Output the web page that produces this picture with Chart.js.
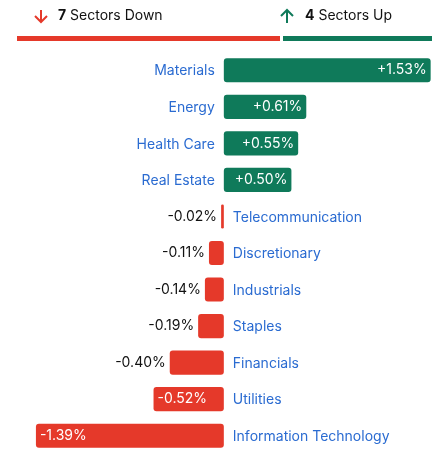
<!DOCTYPE html>
<html><head><meta charset="utf-8">
<script src="https://cdn.jsdelivr.net/npm/chart.js@4"></script>
<style>html,body{margin:0;padding:0;background:#fff}#w{position:relative;width:446px;height:462px}</style>
</head><body><div id="w"><canvas id="c"></canvas></div>
<script>
const categories=["Materials","Energy","Health Care","Real Estate","Telecommunication","Discretionary","Industrials","Staples","Financials","Utilities","Information Technology"];
const values=[1.53,0.61,0.55,0.50,-0.02,-0.11,-0.14,-0.19,-0.40,-0.52,-1.39];
const downCount=7, upCount=4;
const RED="#e5392a", GREEN="#0f7a5a", BLUE="#2a6bd1";
const FONT="Inter, 'Noto Sans', sans-serif";
const plug={id:'lbl',afterDatasetsDraw(ch){
  const ctx=ch.ctx, meta=ch.getDatasetMeta(0), x=ch.scales.x, zero=x.getPixelForValue(0);
  ctx.save();ctx.font="14px "+FONT;ctx.textBaseline="middle";
  meta.data.forEach((b,i)=>{
    const v=values[i], y=b.y, txt=(v>0?"+":"")+v.toFixed(2)+"%";
    const w=Math.abs(b.x-zero), tw=ctx.measureText(txt).width;
    ctx.fillStyle=BLUE;
    if(v>=0){ctx.textAlign="right";ctx.fillText(categories[i],zero-9,y+1);}
    else{ctx.textAlign="left";ctx.fillText(categories[i],zero+9,y+1);}
    const inside=w>tw+10;
    if(v>=0){
      if(inside){ctx.fillStyle="#fff";ctx.textAlign="right";ctx.fillText(txt,b.x-4,y);}
      else{ctx.fillStyle="#111";ctx.textAlign="left";ctx.fillText(txt,b.x+4,y);}
    }else{
      if(inside){ctx.fillStyle="#fff";ctx.textAlign="left";ctx.fillText(txt,b.x+4,y);}
      else{ctx.fillStyle="#111";ctx.textAlign="right";ctx.fillText(txt,b.x-4,y);}
    }
  });
  // header
  ctx.textAlign="left";ctx.font="14px "+FONT;ctx.fillStyle="#111";
  ctx.strokeStyle=RED;ctx.lineWidth=2;
  ctx.beginPath();ctx.moveTo(41,10);ctx.lineTo(41,22);ctx.moveTo(35,16);ctx.lineTo(41,22);ctx.lineTo(47,16);ctx.stroke();
  ctx.font="bold 14px "+FONT;ctx.fillText(String(downCount),58,16);
  let w7=ctx.measureText(String(downCount)).width;ctx.font="14px "+FONT;ctx.fillText(" Sectors Down",58+w7,16);
  ctx.strokeStyle=GREEN;
  ctx.beginPath();ctx.moveTo(287,10);ctx.lineTo(287,23);ctx.moveTo(281,16);ctx.lineTo(287,10);ctx.lineTo(293,16);ctx.stroke();
  ctx.font="bold 14px "+FONT;ctx.fillText(String(upCount),305,16);
  let w4=ctx.measureText(String(upCount)).width;ctx.font="14px "+FONT;ctx.fillText(" Sectors Up",305+w4,16);
  ctx.fillStyle=RED;ctx.fillRect(17,36,263,5);
  ctx.fillStyle=GREEN;ctx.fillRect(283,36,149,5);
  ctx.restore();
}};
new Chart(document.getElementById('c'),{type:'bar',
 data:{labels:categories,datasets:[{data:values,backgroundColor:values.map(v=>v>=0?GREEN:RED),borderRadius:3,borderSkipped:false,barPercentage:0.66,categoryPercentage:1}]},
 options:{indexAxis:'y',responsive:true,maintainAspectRatio:false,animation:false,
  layout:{padding:{top:52,bottom:8,left:17,right:14}},
  plugins:{legend:{display:false},tooltip:{enabled:false}},
  scales:{x:{min:-1.53,max:1.54,display:false},y:{display:false}}},
 plugins:[plug]});
</script></body></html>
